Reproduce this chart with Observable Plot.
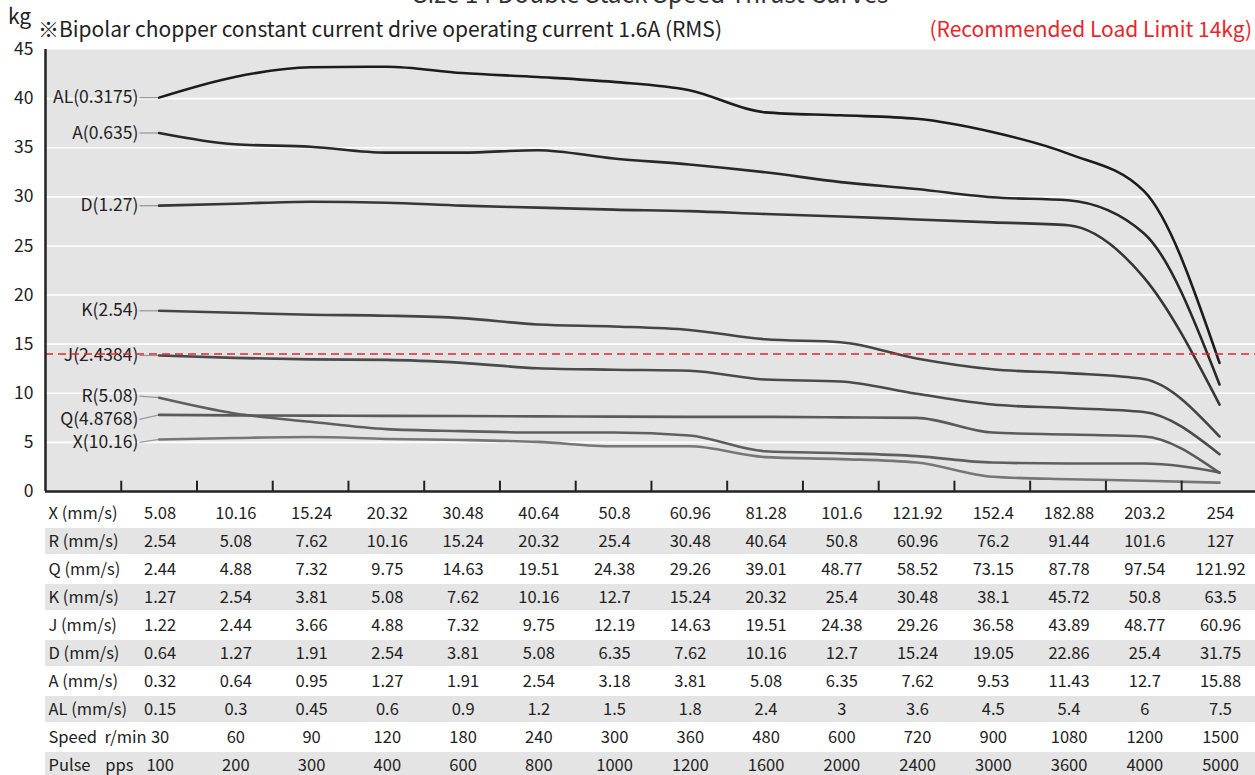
<!DOCTYPE html>
<html><head><meta charset="utf-8">
<script src="https://cdn.jsdelivr.net/npm/d3@7"></script>
<script src="https://cdn.jsdelivr.net/npm/@observablehq/plot@0.6"></script>
<style>
body{margin:0;background:#fff;font-family:"Noto Sans CJK JP","Noto Sans",sans-serif;color:#222;}
#wrap{position:relative;width:1255px;height:775px;overflow:hidden;}
#chart,#table{position:absolute;left:0;}
#chart{top:0;}
#table{top:497px;}
.t{position:absolute;white-space:nowrap;line-height:1;}
</style></head><body>
<div id="wrap">
<div id="chart"></div>
<div id="table"></div>
<div class="t" id="title" style="left:413px;top:-19px;font-size:24.5px;color:#333;">Size 14 Double Stack Speed Thrust Curves</div>
<div class="t" id="kg" style="left:8px;top:5px;font-size:21px;">kg</div>
<div class="t" id="sub" style="left:38px;top:18px;font-size:21px;">※Bipolar chopper constant current drive operating current 1.6A (RMS)</div>
<div class="t" id="note" style="right:3px;top:18px;font-size:21px;color:#e8262c;">(Recommended Load Limit 14kg)</div>
</div>
<script>
// ---- series values (kg) at each of the 15 speed columns ----
const AL = [40.1, 42.2, 43.2, 43.25, 42.6, 42.2, 41.7, 40.85, 38.6, 38.3, 37.95, 36.6, 34.4, 30.6, 13.1];
const A  = [36.5, 35.35, 35.1, 34.5, 34.5, 34.75, 33.9, 33.3, 32.5, 31.5, 30.8, 29.95, 29.65, 26.3, 10.9];
const D  = [29.1, 29.3, 29.5, 29.4, 29.1, 28.9, 28.7, 28.55, 28.25, 28.0, 27.7, 27.4, 27.1, 21.8, 8.85];
const K  = [18.4, 18.2, 18.0, 17.9, 17.65, 17.0, 16.8, 16.45, 15.5, 15.2, 13.55, 12.45, 12.05, 11.45, 5.6];
const J  = [13.85, 13.6, 13.45, 13.4, 13.1, 12.55, 12.4, 12.3, 11.4, 11.2, 9.95, 8.85, 8.5, 8.1, 3.8];
const R  = [9.55, 7.95, 7.1, 6.35, 6.15, 6.0, 6.0, 5.7, 4.1, 3.9, 3.6, 2.95, 2.85, 2.85, 1.95];
const Q  = [7.8, 7.75, 7.72, 7.7, 7.68, 7.65, 7.62, 7.6, 7.6, 7.55, 7.5, 6.0, 5.8, 5.6, 1.9];
const X  = [5.3, 5.45, 5.55, 5.35, 5.25, 5.05, 4.6, 4.6, 3.5, 3.3, 2.95, 1.5, 1.25, 1.1, 0.9];

const seriesNames  = ["AL", "A", "D", "K", "J", "R", "Q", "X"];
const seriesLabels = ["AL(0.3175)", "A(0.635)", "D(1.27)", "K(2.54)", "J(2.4384)", "R(5.08)", "Q(4.8768)", "X(10.16)"];
const seriesValues = [AL, A, D, K, J, R, Q, X];
const labelY       = [40.1, 36.5, 29.1, 18.4, 13.85, 9.7, 7.35, 5.0];
const seriesColors = ["#1c1c1c", "#282828", "#363636", "#454545", "#4a4a4a", "#5e5e5e", "#5a5a5a", "#767676"];

const yTicks = [0, 5, 10, 15, 20, 25, 30, 35, 40, 45];
const gridY  = [5, 10, 15, 20, 25, 30, 35, 40];
const limit  = 14;

// ---- table ----
const rowNames = ["X (mm/s)", "R (mm/s)", "Q (mm/s)", "K (mm/s)", "J (mm/s)", "D (mm/s)", "A (mm/s)", "AL (mm/s)", "Speed\u00a0\u00a0r/min", "Pulse\u00a0\u00a0\u00a0\u00a0pps"];
const rowX  = ["5.08","10.16","15.24","20.32","30.48","40.64","50.8","60.96","81.28","101.6","121.92","152.4","182.88","203.2","254"];
const rowR  = ["2.54","5.08","7.62","10.16","15.24","20.32","25.4","30.48","40.64","50.8","60.96","76.2","91.44","101.6","127"];
const rowQ  = ["2.44","4.88","7.32","9.75","14.63","19.51","24.38","29.26","39.01","48.77","58.52","73.15","87.78","97.54","121.92"];
const rowK  = ["1.27","2.54","3.81","5.08","7.62","10.16","12.7","15.24","20.32","25.4","30.48","38.1","45.72","50.8","63.5"];
const rowJ  = ["1.22","2.44","3.66","4.88","7.32","9.75","12.19","14.63","19.51","24.38","29.26","36.58","43.89","48.77","60.96"];
const rowD  = ["0.64","1.27","1.91","2.54","3.81","5.08","6.35","7.62","10.16","12.7","15.24","19.05","22.86","25.4","31.75"];
const rowA  = ["0.32","0.64","0.95","1.27","1.91","2.54","3.18","3.81","5.08","6.35","7.62","9.53","11.43","12.7","15.88"];
const rowAL = ["0.15","0.3","0.45","0.6","0.9","1.2","1.5","1.8","2.4","3","3.6","4.5","5.4","6","7.5"];
const rowSpeed = ["30","60","90","120","180","240","300","360","480","600","720","900","1080","1200","1500"];
const rowPulse = ["100","200","300","400","600","800","1000","1200","1600","2000","2400","3000","3600","4000","5000"];
const rowValues = [rowX, rowR, rowQ, rowK, rowJ, rowD, rowA, rowAL, rowSpeed, rowPulse];

const nCols = 15;
const xDomain = [-1.5, nCols - 0.525];
const tickPos = d3.range(nCols).map(i => i - 0.5);
const font = '"Noto Sans CJK JP","Noto Sans",sans-serif';

const series = seriesNames.map((n, k) => ({
  name: n, label: seriesLabels[k], values: seriesValues[k], labelY: labelY[k], color: seriesColors[k]
}));

const lineMarks = series.map(s =>
  Plot.line(s.values.map((v, i) => ({i, v})), {x: "i", y: "v", stroke: s.color, strokeWidth: 2.6, curve: "monotone-x"})
);

const chart = Plot.plot({
  width: 1255, height: 497,
  marginLeft: 45, marginRight: 0, marginTop: 49, marginBottom: 6,
  x: {domain: xDomain, axis: null},
  y: {domain: [0, 45], axis: null},
  style: {fontFamily: font, fontSize: "16px", color: "#222", background: "transparent", overflow: "visible"},
  marks: [
    Plot.frame({fill: "#e3e4e3", stroke: null}),
    Plot.ruleY(gridY, {stroke: "#ffffff", strokeWidth: 1.6}),
    Plot.axisY({ticks: yTicks, tickSize: 0, tickPadding: 12, tickFormat: d => String(d), fontSize: 17.5, fill: "#222"}),
    Plot.link(series, {x1: -0.26, x2: 0, y1: "labelY", y2: d => d.values[0], stroke: "#9a9a9a", strokeWidth: 1.3}),
    Plot.text(series, {x: -0.26, y: "labelY", text: "label", textAnchor: "end", dx: -1, fill: "#222", fontSize: 17.5}),
    ...lineMarks,
    Plot.ruleY([limit], {stroke: "#e8262c", strokeWidth: 1.6, strokeDasharray: "8,5"}),
    Plot.ruleX(tickPos, {y1: 0, y2: 1.05, stroke: "#222", strokeWidth: 2}),
    Plot.ruleX([xDomain[0]], {stroke: "#222", strokeWidth: 2.5}),
    Plot.ruleY([0], {stroke: "#222", strokeWidth: 2.5})
  ]
});
document.getElementById("chart").appendChild(chart);

const grayRows = rowNames.filter((r, k) => k % 2 === 1);
const cells = rowNames.flatMap((r, k) => rowValues[k].map((t, i) => ({row: r, i, t})));

const table = Plot.plot({
  width: 1255, height: 278,
  marginLeft: 45, marginRight: 0, marginTop: 0, marginBottom: 0,
  x: {domain: xDomain, axis: null},
  y: {type: "band", domain: rowNames, range: [1, 282], padding: 0, axis: null},
  style: {fontFamily: font, fontSize: "16px", color: "#222", background: "transparent", overflow: "visible"},
  marks: [
    Plot.barX(grayRows, {x1: xDomain[0], x2: xDomain[1], y: d => d, fill: "#e3e4e3", insetTop: 1, insetBottom: 1}),
    Plot.text(rowNames, {x: xDomain[0], y: d => d, text: d => d, textAnchor: "start", dx: 3, fill: "#222", fontSize: 16.5}),
    Plot.text(cells, {x: "i", y: "row", text: "t", dx: 1, fill: "#222", fontSize: 16.5})
  ]
});
document.getElementById("table").appendChild(table);
</script>
</body></html>
